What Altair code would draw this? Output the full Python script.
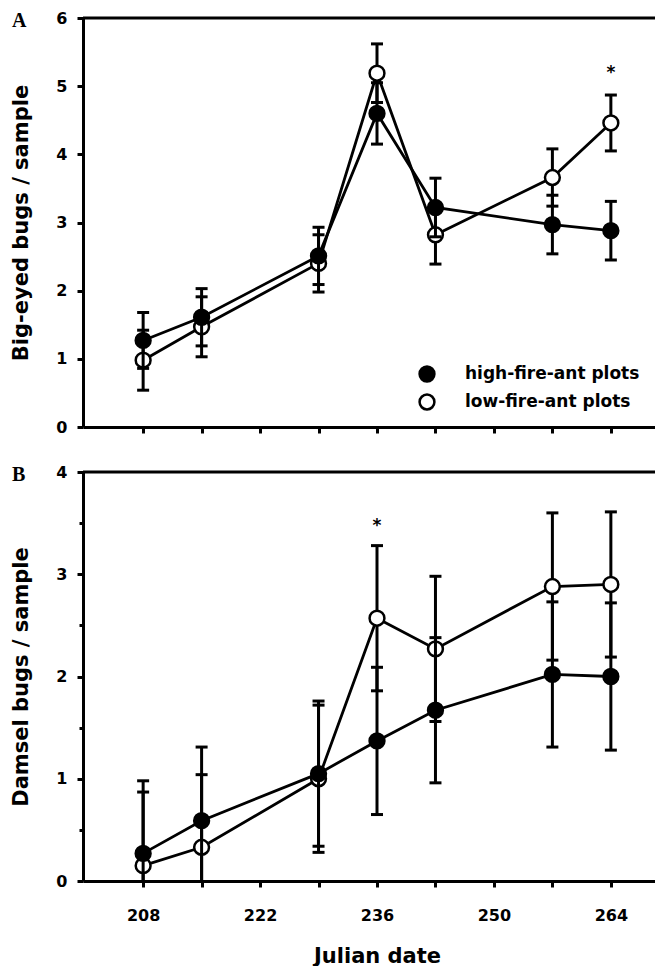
import altair as alt
import pandas as pd

# ---------------- data ----------------
days = [208, 215, 229, 236, 243, 257, 264]
series_names = ["high-fire-ant plots", "low-fire-ant plots"]

bigeyed_high = [1.27, 1.61, 2.51, 4.60, 3.22, 2.97, 2.88]
bigeyed_high_se = [0.41, 0.42, 0.42, 0.45, 0.43, 0.43, 0.43]
bigeyed_low = [0.98, 1.47, 2.40, 5.19, 2.82, 3.66, 4.46]
bigeyed_low_se = [0.44, 0.44, 0.42, 0.43, 0.43, 0.42, 0.41]

damsel_high = [0.27, 0.59, 1.05, 1.37, 1.67, 2.02, 2.00]
damsel_high_se = [0.71, 0.72, 0.71, 0.72, 0.71, 0.71, 0.72]
damsel_low = [0.15, 0.33, 1.00, 2.57, 2.27, 2.88, 2.90]
damsel_low_se = [0.72, 0.71, 0.72, 0.71, 0.71, 0.72, 0.71]

x_ticks = [208, 215, 222, 229, 236, 243, 250, 257, 264]
top_y_ticks = [0, 1, 2, 3, 4, 5, 6]
bottom_y_ticks = [0, 0.5, 1, 1.5, 2, 2.5, 3, 3.5, 4]

star_top = {"day": [264], "y": [5.2], "t": ["*"]}
star_bottom = {"day": [236], "y": [3.47], "t": ["*"]}

# ---------------- helpers ----------------
FONT = "DejaVu Sans"
W, H = 588, 409
x_scale = alt.Scale(domain=[200.8, 271.2], nice=False, zero=False)
fill_scale = alt.Scale(domain=series_names, range=["black", "white"])


def make_df(high, high_se, low, low_se):
    rows = []
    for s, vals, ses in [(series_names[0], high, high_se), (series_names[1], low, low_se)]:
        for d, v, e in zip(days, vals, ses):
            rows.append({"day": d, "mean": v, "lo": v - e, "hi": v + e, "series": s})
    return pd.DataFrame(rows)


def panel(df, ymax, y_axis, x_axis, xtitle, ytitle, letter, star, legend):
    y_scale = alt.Scale(domain=[0, ymax], nice=False, zero=True)

    def X(field="day"):
        return alt.X(f"{field}:Q", scale=x_scale, axis=x_axis, title=xtitle)

    def Y(field):
        return alt.Y(f"{field}:Q", scale=y_scale, axis=y_axis, title=ytitle)

    layers = []
    frame = alt.Chart(pd.DataFrame({"v": [ymax]})).mark_rule(
        color="black", strokeWidth=3).encode(y=Y("v"))
    layers.append(frame)

    for s in [series_names[1], series_names[0]]:
        d = df[df["series"] == s]
        base = alt.Chart(d)
        layers.append(base.mark_line(color="black", strokeWidth=2.8).encode(x=X(), y=Y("mean")))
        layers.append(base.mark_rule(color="black", strokeWidth=3, clip=True).encode(
            x=X(), y=Y("lo"), y2="hi:Q"))
        for f in ["lo", "hi"]:
            layers.append(base.mark_tick(orient="horizontal", color="black", size=12,
                                         thickness=3, opacity=1, clip=True).encode(
                x=X(), y=Y(f)))
        layers.append(base.mark_circle(size=220, stroke="black", strokeWidth=2.5, opacity=1).encode(
            x=X(), y=Y("mean"),
            fill=alt.Fill("series:N", scale=fill_scale, legend=legend)))

    layers.append(alt.Chart(pd.DataFrame(star)).mark_text(
        font=FONT, fontSize=17, fontWeight="bold", baseline="middle", color="black").encode(
        x=X("day"), y=Y("y"), text="t:N"))
    layers.append(alt.Chart(pd.DataFrame({"label": [letter]})).mark_text(
        font="Liberation Serif", fontWeight="bold", fontSize=20, align="left",
        baseline="alphabetic", color="black").encode(
        x=alt.value(-71), y=alt.value(9), text="label:N"))

    return alt.layer(*layers).properties(width=W, height=H)


top_df = make_df(bigeyed_high, bigeyed_high_se, bigeyed_low, bigeyed_low_se)
bot_df = make_df(damsel_high, damsel_high_se, damsel_low, damsel_low_se)

top_x_axis = alt.Axis(values=x_ticks, labels=False, tickSize=6, labelFlush=False)
bot_x_axis = alt.Axis(values=x_ticks, tickSize=6, labelFlush=False,
                      labelExpr="datum.value % 14 === 12 ? datum.label : ''",
                      labelPadding=20, titlePadding=22, labelOverlap=False)

top_y_axis = alt.Axis(values=top_y_ticks, tickSize=6, labelPadding=10, titlePadding=24)
bot_y_axis = alt.Axis(values=bottom_y_ticks, labelPadding=10, titlePadding=24,
                      tickSize={"condition": {"test": "datum.value % 1 === 0", "value": 6}, "value": 4},
                      labelExpr="datum.value % 1 === 0 ? format(datum.value, 'd') : ''",
                      labelOverlap=False)

legend = alt.Legend(orient="none", legendX=335, legendY=347, title=None,
                    symbolType="circle", symbolSize=220, symbolStrokeColor="black",
                    symbolStrokeWidth=2.5, symbolOpacity=1, labelLimit=0,
                    labelFont=FONT, labelFontWeight="bold", labelFontSize=17,
                    labelColor="black", labelOffset=29, rowPadding=2, padding=0)

top = panel(top_df, 6, top_y_axis, top_x_axis, None, "Big-eyed bugs / sample", "A", star_top, legend)
bottom = panel(bot_df, 4, bot_y_axis, bot_x_axis, "Julian date", "Damsel bugs / sample", "B",
               star_bottom, None)

chart = alt.vconcat(top, bottom, spacing=29).resolve_scale(
    y="independent", fill="independent").resolve_legend(fill="independent").properties(
    padding={"left": 2, "top": 2, "right": -18, "bottom": 0},
    background="white",
).configure_view(stroke=None).configure_axis(
    domainColor="black", domainWidth=3, tickColor="black", tickWidth=3,
    labelFont=FONT, labelFontWeight="bold", labelFontSize=16, labelColor="black",
    titleFont=FONT, titleFontWeight="bold", titleFontSize=21, titleColor="black",
    grid=False,
)

chart.save("out.html", embed_options={"renderer": "svg", "actions": False})
